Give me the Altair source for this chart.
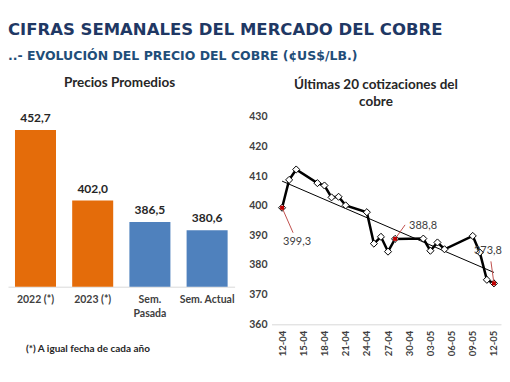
import altair as alt
import pandas as pd

# ---------------- data ----------------
categories = ["2022 (*)", "2023 (*)", "Sem. Pasada", "Sem. Actual"]
avg_prices = [452.7, 402.0, 386.5, 380.6]
bar_groups = ["anual", "anual", "semanal", "semanal"]

dates = ["2023-04-12", "2023-04-13", "2023-04-14", "2023-04-17", "2023-04-18",
         "2023-04-19", "2023-04-20", "2023-04-21", "2023-04-24", "2023-04-25",
         "2023-04-26", "2023-04-27", "2023-04-28", "2023-05-02", "2023-05-03",
         "2023-05-04", "2023-05-05", "2023-05-09", "2023-05-10", "2023-05-11",
         "2023-05-12"]
prices = [399.3, 408.7, 412.2, 407.6, 406.8,
          402.8, 403.0, 400.1, 397.8, 387.2,
          389.5, 384.5, 388.8, 388.9, 384.8,
          387.6, 385.3, 389.8, 384.2, 375.0,
          373.8]

annot_dates = ["2023-04-12", "2023-04-28", "2023-05-12"]
annot_values = [399.3, 388.8, 373.8]

x_tick_dates = ["2023-04-12", "2023-04-15", "2023-04-18", "2023-04-21", "2023-04-24",
                "2023-04-27", "2023-04-30", "2023-05-03", "2023-05-06", "2023-05-09",
                "2023-05-12"]
y_ticks = [360, 370, 380, 390, 400, 410, 420, 430]

title_main = "CIFRAS SEMANALES DEL MERCADO DEL COBRE"
title_sub = "..- EVOLUCIÓN DEL PRECIO DEL COBRE (¢US$/LB.)"
left_title = "Precios Promedios"
right_title = "Últimas 20 cotizaciones del\ncobre"
footnote = "(*) A igual fecha de cada año"


def fmt(v):
    return f"{v:.1f}".replace(".", ",")


def dt(s):
    d = pd.Timestamp(s)
    return alt.DateTime(year=d.year, month=d.month, date=d.day)


FONT = "Lato"
TXT = "#404040"

bar_df = pd.DataFrame({"cat": categories, "value": avg_prices, "group": bar_groups,
                       "label": [fmt(v) for v in avg_prices]})
line_df = pd.DataFrame({"date": [d + "T00:00:00" for d in dates], "value": prices})
ann_df = pd.DataFrame({"date": [d + "T00:00:00" for d in annot_dates], "value": annot_values,
                       "label": [fmt(v) for v in annot_values]})

# ---------------- left panel ----------------
bx = alt.X("cat:N", sort=categories,
           scale=alt.Scale(range=[0, 226.6], paddingInner=0.283, paddingOuter=0.122),
           axis=alt.Axis(orient="bottom", offset=-37.6, title=None, labelAngle=0,
                         domainColor="#D9D9D9", domainWidth=1, ticks=False, labelPadding=8,
                         labelFont=FONT, labelFontWeight="bold", labelFontSize=10.5,
                         labelColor=TXT, labelBaseline="top", labelLineHeight=13.5,
                         labelExpr="datum.value == 'Sem. Pasada' ? ['Sem.', 'Pasada'] : datum.label"))
by = alt.Y("value:Q", scale=alt.Scale(domain=[340, 460], range=[278.7, 111.9], zero=False, nice=False),
           axis=None)

bars = alt.Chart(bar_df).mark_bar().encode(
    x=bx, y=by, y2=alt.datum(340),
    color=alt.Color("group:N", scale=alt.Scale(domain=["anual", "semanal"],
                                               range=["#E46C0A", "#4F81BD"]), legend=None))
bar_labels = alt.Chart(bar_df).mark_text(dy=-12, font=FONT, fontWeight="bold", fontSize=12,
                                         color="#262626").encode(x=bx, y=by, text="label:N")
left = alt.layer(bars, bar_labels)

# ---------------- right panel ----------------
rx = alt.X("date:T",
           scale=alt.Scale(domain=[alt.DateTime(year=2023, month=4, date=10, hours=12),
                                   alt.DateTime(year=2023, month=5, date=13)],
                           range=[263.5, 493]),
           axis=alt.Axis(orient="bottom", title=None, values=[dt(s) for s in x_tick_dates],
                         format="%d-%m", labelAngle=-90, domainColor="#D9D9D9", ticks=False,
                         labelPadding=6, labelFont=FONT, labelFontWeight="bold", labelFontSize=9.5,
                         labelColor=TXT, grid=False))
ry = alt.Y("value:Q", scale=alt.Scale(domain=[360, 430], range=[316.3, 108.7], zero=False, nice=False),
           axis=alt.Axis(orient="left", offset=-263.5, title=None, values=y_ticks, domain=False,
                         ticks=False, grid=False, labelPadding=4.5, labelFont=FONT,
                         labelFontWeight="bold", labelFontSize=10.5, labelColor=TXT))

base = alt.Chart(line_df)
trend = base.transform_regression("date", "value").mark_line(color="black", strokeWidth=1).encode(x=rx, y=ry)
line = base.mark_line(color="black", strokeWidth=2.5).encode(x=rx, y=ry)
pts = base.mark_point(shape="diamond", filled=True, fill="white", stroke="black", strokeWidth=1,
                      size=50, opacity=1).encode(x=rx, y=ry)

ann_style = [  # (leader dx, leader dy, text dx, text dy, align)
    (11, 25, 15, 34, "center"),
    (10, -14, 14, -13, "left"),
    (-3, -22, -6, -32, "center"),
]
ann_layers = []
for i, (ldx, ldy, tdx, tdy, al) in enumerate(ann_style):
    one = alt.Chart(ann_df.iloc[[i]])
    ann_layers.append(one.mark_rule(color="#C0504D", strokeWidth=1, x2Offset=ldx, y2Offset=ldy)
                      .encode(x=rx, y=ry, x2="date:T", y2="value:Q"))
    ann_layers.append(one.mark_text(dx=tdx, dy=tdy, align=al, baseline="middle", font=FONT,
                                    fontSize=11, color=TXT).encode(x=rx, y=ry, text="label:N"))
red_dots = alt.Chart(ann_df).mark_square(color="#C00000", size=16, opacity=1).encode(x=rx, y=ry)

right = alt.layer(trend, line, pts, *ann_layers, red_dots)

# ---------------- texts ----------------
def txt(s, x, y, **kw):
    return alt.Chart(pd.DataFrame({"t": [s]})).mark_text(**kw).encode(
        text="t:N", x=alt.value(x), y=alt.value(y))

t1 = txt(title_main, 0, 22, align="left", baseline="middle", font="DejaVu Sans",
         fontWeight="bold", fontSize=16.5, color="#1F3864")
t2 = txt(title_sub, 0, 48, align="left", baseline="middle", font="DejaVu Sans",
         fontWeight="bold", fontSize=12.5, color="#1F4E79")
t3 = txt(left_title, 111.5, 75.5, align="center", baseline="middle", font=FONT,
         fontWeight="bold", fontSize=13.5, color="#262626")
t4 = txt(right_title, 368, 70, align="center", baseline="top", font=FONT, lineBreak="\n",
         lineHeight=17.5, fontWeight="bold", fontSize=13.5, color="#262626")
t5 = txt(footnote, 18, 341, align="left", baseline="middle", font=FONT,
         fontWeight="bold", fontSize=10, color="#262626")

chart = alt.layer(left, right, t1, t2, t3, t4, t5).resolve_scale(
    x="independent", y="independent", color="independent"
).properties(
    width=494, height=316.3, autosize="none",
    padding={"left": 0, "top": 0, "right": 0, "bottom": 50},
).configure_view(stroke=None).configure_axis(grid=False)

chart.save("out.html", embed_options={"renderer": "svg", "actions": False})
